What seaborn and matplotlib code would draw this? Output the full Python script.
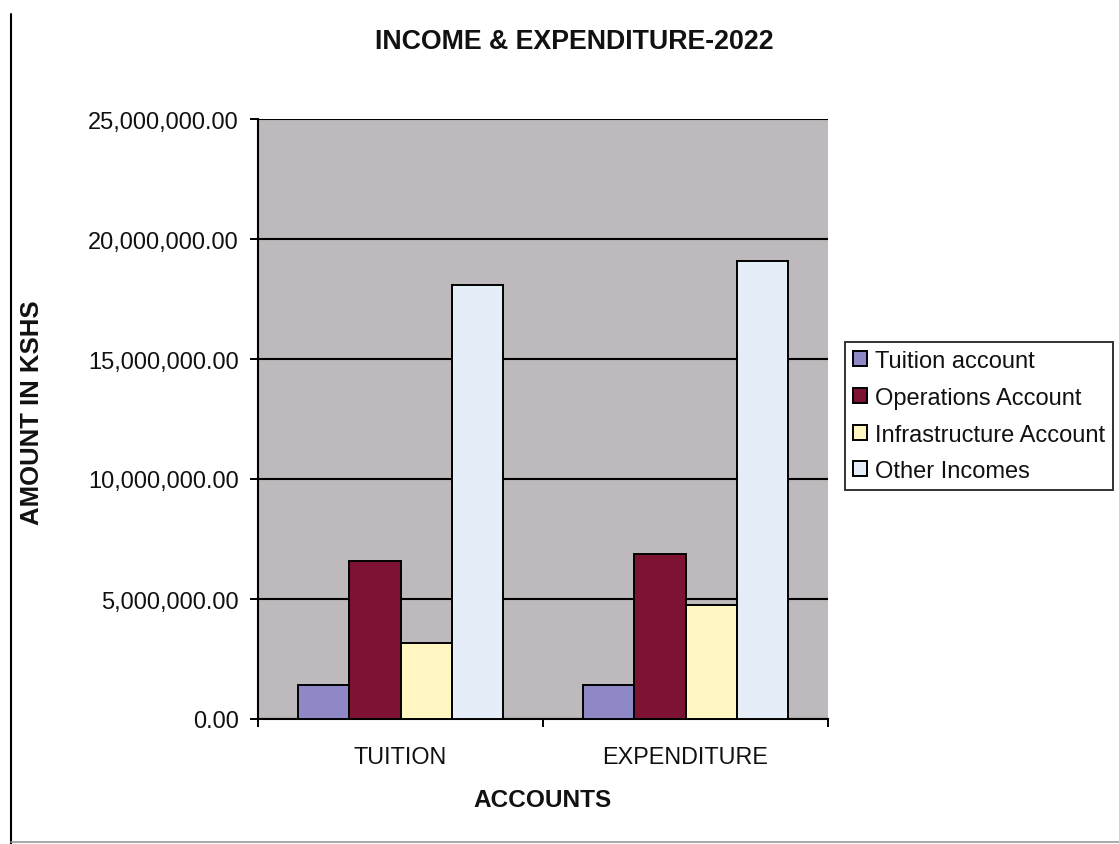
import matplotlib
matplotlib.use("Agg")
import matplotlib.pyplot as plt
from matplotlib.lines import Line2D
from matplotlib.ticker import FuncFormatter, FixedLocator
import seaborn as sns
import pandas as pd

categories = ["TUITION", "EXPENDITURE"]
series = ["Tuition account", "Operations Account", "Infrastructure Account", "Other Incomes"]
tuition_account = [1420000, 1420000]
operations_account = [6580000, 6870000]
infrastructure_account = [3170000, 4750000]
other_incomes = [18080000, 19100000]
colors = ["#8e89c6", "#7e1232", "#fff6c2", "#e5eef8"]

values = [tuition_account, operations_account, infrastructure_account, other_incomes]
rows = []
for s, vals in zip(series, values):
    for c, v in zip(categories, vals):
        rows.append({"Account": c, "Series": s, "Amount": v})
df = pd.DataFrame(rows)

sns.set_theme(style="white")
plt.rcParams["font.family"] = ["Liberation Sans", "DejaVu Sans"]

W, H = 1119, 845
fig = plt.figure(figsize=(W / 100, H / 100), dpi=100)
ax = fig.add_axes([258 / W, 1 - 720 / H, (828 - 258) / W, (720 - 120) / H])
ax.set_facecolor("#bdb9bc")

sns.barplot(data=df, x="Account", y="Amount", hue="Series", order=categories,
            hue_order=series, palette=colors, width=0.72, gap=0,
            edgecolor="black", linewidth=1.4, saturation=1, ax=ax, zorder=3)

ax.set_xlim(-0.5, 1.5)
ax.set_ylim(0, 25000000)
ax.set_yticks([0, 5000000, 10000000, 15000000, 20000000, 25000000])
ax.yaxis.set_major_formatter(FuncFormatter(lambda v, p: f"{v:,.2f}"))
ax.grid(axis="y", color="black", linewidth=1.5, zorder=1)
ax.set_axisbelow(True)
ax.grid(axis="x", visible=False)

for side in ["top", "right"]:
    ax.spines[side].set_visible(False)
for side in ["left", "bottom"]:
    ax.spines[side].set_color("black")
    ax.spines[side].set_linewidth(1.5)

ax.tick_params(axis="y", which="major", direction="out", length=6, width=1.4,
               color="black", left=True, labelsize=17, pad=8, labelcolor="#111111")
ax.tick_params(axis="x", which="major", length=0, labelsize=16.8, pad=19, labelcolor="#111111")
ax.xaxis.set_minor_locator(FixedLocator([-0.5, 0.5, 1.5]))
ax.tick_params(axis="x", which="minor", direction="out", length=6, width=1.4,
               color="black", bottom=True)

ax.set_xlabel("ACCOUNTS", fontsize=17.6, fontweight="bold", color="#111111")
ax.xaxis.set_label_coords(0.5, -0.115)
ax.set_ylabel("AMOUNT IN KSHS", fontsize=18.5, fontweight="bold", color="#111111")
ax.yaxis.set_label_coords(-0.375, 0.512)

fig.suptitle("INCOME & EXPENDITURE-2022", x=574.5 / W, y=1 - 42 / H, va="center",
             fontsize=19.3, fontweight="bold", color="#111111")

handles, labels = ax.get_legend_handles_labels()
leg = ax.legend(handles, labels, loc="upper left",
                bbox_to_anchor=(845 / W, 1 - 343 / H), bbox_transform=fig.transFigure,
                fontsize=17, frameon=True, fancybox=False, borderpad=0.35,
                handlelength=0.6, handleheight=0.6, handletextpad=0.3,
                labelspacing=0.62, borderaxespad=0)
leg.get_frame().set_edgecolor("black")
leg.get_frame().set_linewidth(1.4)
leg.get_frame().set_facecolor("white")
for t in leg.get_texts():
    t.set_color("#111111")

fig.add_artist(Line2D([11 / W, 11 / W], [1 - 15 / H, 0.0], transform=fig.transFigure,
                      color="black", linewidth=1.5))
fig.add_artist(Line2D([11 / W, 1.0], [1 - 843 / H, 1 - 843 / H], transform=fig.transFigure,
                      color="#999999", linewidth=1.2))

fig.savefig("out.png", dpi=100, facecolor="white")
